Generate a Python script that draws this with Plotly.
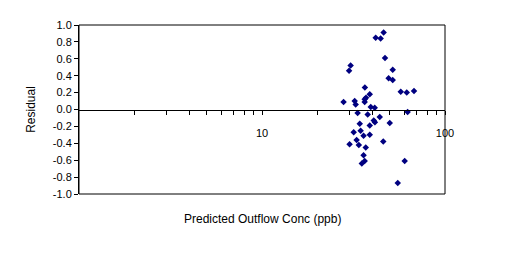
import plotly.graph_objects as go

# Data
predicted = [46.2, 41.8, 44.5, 47.0, 30.5, 29.9, 51.8, 49.2, 51.8, 36.5,
             57.3, 61.8, 67.7, 38.8, 37.0, 36.4, 36.4, 27.9, 32.1, 32.5,
             39.3, 41.3, 62.5, 33.3, 37.8, 44.0, 40.8, 41.4, 49.9, 34.2,
             38.8, 31.7, 34.6, 35.9, 38.8, 32.9, 30.1, 33.8, 36.9, 46.0,
             35.9, 36.4, 35.1, 60.2, 55.2]
residual = [0.91, 0.85, 0.84, 0.61, 0.52, 0.46, 0.47, 0.37, 0.35, 0.26,
            0.21, 0.20, 0.22, 0.18, 0.14, 0.12, 0.09, 0.09, 0.10, 0.06,
            0.03, 0.02, -0.03, -0.04, -0.06, -0.09, -0.13, -0.15, -0.16, -0.17,
            -0.19, -0.27, -0.25, -0.31, -0.30, -0.36, -0.41, -0.42, -0.45, -0.38,
            -0.54, -0.61, -0.64, -0.61, -0.87]

y_ticks = [-1.0, -0.8, -0.6, -0.4, -0.2, 0.0, 0.2, 0.4, 0.6, 0.8, 1.0]
y_labels = [f"{v:.1f}" for v in y_ticks]
x_ticks = [2, 3, 4, 5, 6, 7, 8, 9, 10, 20, 30, 40, 50, 60, 70, 80, 90, 100]
x_labels = ["10" if v == 10 else "100" if v == 100 else "" for v in x_ticks]

FONT = "Liberation Sans, Arial, sans-serif"

fig = go.Figure()
fig.add_trace(go.Scatter(
    x=predicted, y=residual, mode="markers",
    marker=dict(symbol="diamond", size=5, color="#000080", line=dict(width=0)),
    showlegend=False, cliponaxis=False,
))

fig.update_layout(
    width=511, height=257,
    margin=dict(l=79, r=66, t=25, b=63),
    paper_bgcolor="white", plot_bgcolor="white",
    font=dict(family=FONT, size=11, color="black"),
    xaxis=dict(
        type="log", range=[0, 2],
        anchor="free", position=0.5,
        showline=True, linecolor="black", linewidth=1,
        showgrid=False, zeroline=False,
        tickmode="array", tickvals=x_ticks, ticktext=x_labels,
        ticks="outside", ticklen=4, tickcolor="black",
        ticklabelstandoff=9,
        tickfont=dict(family=FONT, size=11),
    ),
    yaxis=dict(
        range=[-1, 1],
        showline=True, linecolor="black", linewidth=1,
        showgrid=False, zeroline=False,
        tickmode="array", tickvals=y_ticks, ticktext=y_labels,
        ticks="outside", ticklen=4, tickcolor="black",
        tickfont=dict(family=FONT, size=11),
        title=dict(text="Residual", font=dict(family=FONT, size=12), standoff=14),
    ),
    shapes=[dict(type="rect", xref="paper", yref="paper", x0=0, x1=1, y0=0, y1=1,
                 line=dict(color="black", width=1), layer="below")],
    annotations=[dict(text="Predicted Outflow Conc (ppb)", xref="paper", yref="paper",
                      x=0.5, y=0, yshift=-16, xanchor="center", yanchor="top",
                      showarrow=False, font=dict(family=FONT, size=12))],
)

fig.write_html("out.html")
